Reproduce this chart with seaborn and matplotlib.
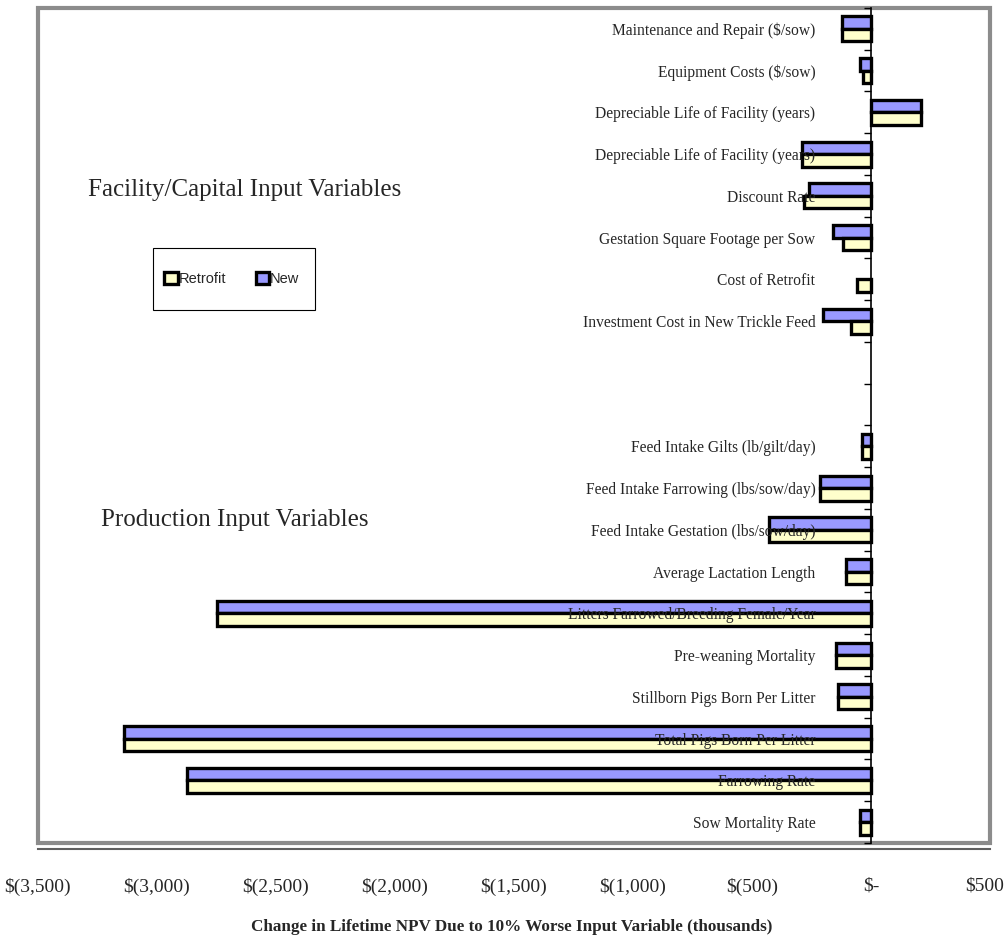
import numpy as np
import pandas as pd
import matplotlib
matplotlib.use("Agg")
import matplotlib.pyplot as plt
import matplotlib.transforms as mtransforms
import seaborn as sns
from matplotlib.patches import Rectangle
from matplotlib.ticker import FixedLocator, FuncFormatter

# ─── Data (thousands of $) ─────────────────────────────────────────────────────

categories = [
    "Maintenance and Repair ($/sow)",
    "Equipment Costs ($/sow)",
    "Depreciable Life of Facility (years)",
    "Depreciable Life of Facility (years) ",
    "Discount Rate",
    "Gestation Square Footage per Sow",
    "Cost of Retrofit",
    "Investment Cost in New Trickle Feed",
    " ",
    "  ",
    "Feed Intake Gilts (lb/gilt/day)",
    "Feed Intake Farrowing (lbs/sow/day)",
    "Feed Intake Gestation (lbs/sow/day)",
    "Average Lactation Length",
    "Litters Farrowed/Breeding Female/Year",
    "Pre-weaning Mortality",
    "Stillborn Pigs Born Per Litter",
    "Total Pigs Born Per Litter",
    "Farrowing Rate",
    "Sow Mortality Rate",
]

new_values = [-120, -45, 210, -290, -260, -160, np.nan, -203, np.nan, np.nan,
              -38, -214, -429, -105, -2750, -147, -137, -3138, -2873, -48]
retrofit_values = [-120, -35, 210, -290, -282, -118, -59, -84, np.nan, np.nan,
                   -38, -214, -429, -105, -2750, -147, -137, -3138, -2873, -48]

series = ["New", "Retrofit"]
x_ticks = [-3500, -3000, -2500, -2000, -1500, -1000, -500, 0, 500]

COLORS = {"New": "#9999FF", "Retrofit": "#FFFFCC"}
SERIF = ["Liberation Serif", "DejaVu Serif"]

df = pd.DataFrame({
    "Variable": categories * 2,
    "Value": new_values + retrofit_values,
    "Type": ["New"] * len(categories) + ["Retrofit"] * len(categories),
})


def money(v, pos=None):
    if v == 0:
        return "$-"
    if v < 0:
        return f"$({abs(v):,.0f})"
    return f"${v:,.0f}"


# ─── Plot ──────────────────────────────────────────────────────────────────────

sns.set_style("white")
plt.rcParams["font.family"] = SERIF

fig = plt.figure(figsize=(10.07, 9.41), dpi=100)
ax = fig.add_axes([38 / 1007, 1 - 843 / 941, 952 / 1007, 835 / 941])

sns.barplot(
    data=df, x="Value", y="Variable", hue="Type",
    order=categories, hue_order=series, palette=COLORS,
    orient="h", width=0.6, edgecolor="black", linewidth=2.4,
    saturation=1, dodge=True, ax=ax, legend=False,
)

ax.set_xlim(-3500, 500)
ax.set_ylim(len(categories) - 0.5, -0.5)
ax.set_xlabel("")
ax.set_ylabel("")
ax.set_axisbelow(False)  # category labels sit on top of the long bars

# plot-area frame
for s in ["top", "right"]:
    ax.spines[s].set_visible(False)
ax.add_patch(Rectangle((0, 0), 1, 1, transform=ax.transAxes, fill=False,
                       edgecolor="#8c8c8c", linewidth=3, clip_on=False, zorder=0.5))

# value axis at the bottom
ax.spines["bottom"].set_position(("outward", 4))
ax.spines["bottom"].set_color("#606060")
ax.spines["bottom"].set_linewidth(1.5)
ax.xaxis.set_major_locator(FixedLocator(x_ticks))
ax.xaxis.set_major_formatter(FuncFormatter(money))
ax.tick_params(axis="x", direction="out", length=7, width=1.2, color="#404040",
               pad=14, labelsize=14)

# keep the last value label inside the picture
last = ax.xaxis.get_major_ticks()[-1].label1
last.set_transform(last.get_transform()
                   + mtransforms.ScaledTranslation(-5 / 100, 0, fig.dpi_scale_trans))

# category axis crosses at zero
ax.spines["left"].set_position(("data", 0))
ax.spines["left"].set_color("black")
ax.spines["left"].set_linewidth(1.2)
ax.yaxis.set_minor_locator(FixedLocator(np.arange(len(categories) + 1) - 0.5))
ax.set_yticks(range(len(categories)), [c.strip() for c in categories])
ax.tick_params(axis="y", which="major", length=0, pad=40, labelsize=11.2)
ax.tick_params(axis="y", which="minor", direction="out", length=5, width=1,
               color="black", left=True)

fig.text(0.2433, 0.798, "Facility/Capital Input Variables", fontsize=18,
         ha="center", va="center")
fig.text(0.2334, 0.4474, "Production Input Variables", fontsize=18,
         ha="center", va="center")
fig.text(0.508, 1 - 927 / 941,
         "Change in Lifetime NPV Due to 10% Worse Input Variable (thousands)",
         fontsize=12.3, fontweight="bold", ha="center", va="center")

# legend (Retrofit first, as in the original), frame drawn separately
fig.add_artist(Rectangle((153 / 1007, 1 - 310 / 941), 162 / 1007, 62 / 941,
                         transform=fig.transFigure, fill=False,
                         edgecolor="black", linewidth=0.8))
handles = [Rectangle((0, 0), 1, 1, facecolor=COLORS[s], edgecolor="black",
                     linewidth=2.4) for s in ["Retrofit", "New"]]
fig.legend(handles, ["Retrofit", "New"], loc="center",
           bbox_to_anchor=(232 / 1007, 1 - 279 / 941), ncol=2, frameon=False,
           handlelength=0.9, handleheight=0.9, handletextpad=0.1,
           columnspacing=2.0, borderpad=0, borderaxespad=0,
           prop={"family": ["Liberation Sans Narrow", "Liberation Sans"],
                 "size": 10.5})

fig.savefig("out.png", dpi=100)
